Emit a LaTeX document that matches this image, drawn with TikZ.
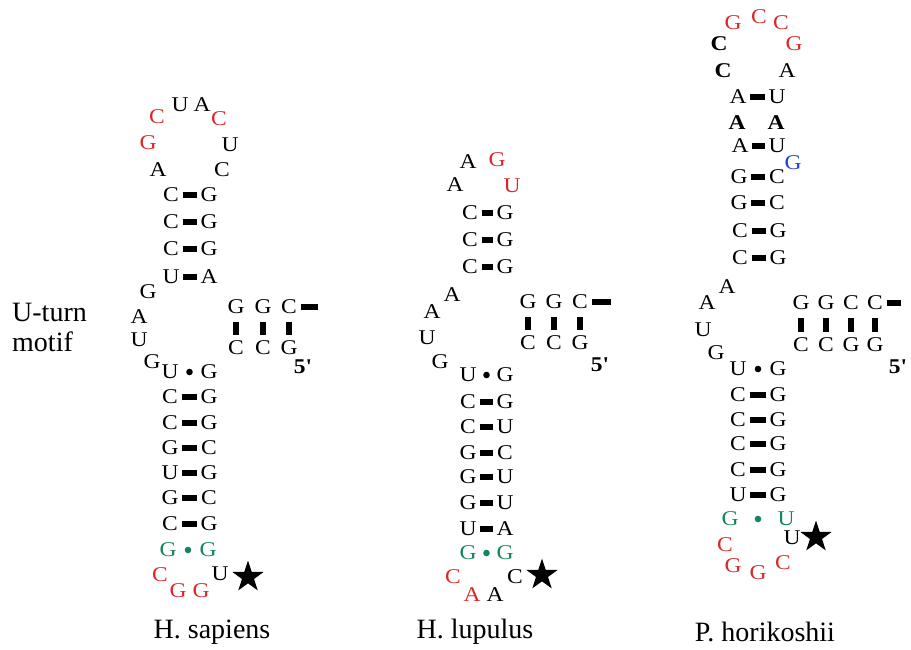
\documentclass[tikz,border=0pt]{standalone}
\usepackage{fontspec}
\setmainfont{Liberation Serif}
\newfontfamily\ntfont{Liberation Serif}[FakeStretch=1.12]
\usetikzlibrary{shapes.geometric,calc}
\definecolor{ntred}{RGB}{220,40,40}
\definecolor{ntgreen}{RGB}{20,135,90}
\definecolor{ntblue}{RGB}{30,70,210}
\tikzset{
  nt/.style={font=\ntfont\fontsize{21}{21}\selectfont, inner sep=0pt, text=black},
  rd/.style={nt, text=ntred},
  gn/.style={nt, text=ntgreen},
  bl/.style={nt, text=ntblue},
  bnt/.style={nt, font=\ntfont\bfseries\fontsize{21}{21}\selectfont},
  bond/.style={draw=black, line width=5.5pt, shorten <=3.5pt, shorten >=3.5pt},
  vbond/.style={draw=black, line width=5.2pt, shorten <=8pt, shorten >=6pt},
  lbl/.style={font=\fontsize{28}{28}\selectfont, inner sep=0pt},
  starmark/.style={star, star points=5, star point ratio=2.6, fill=black, minimum size=33pt, inner sep=0pt},
}
% Watson-Crick pair: prefix, y, left x, right x, left letter, right letter
\newcommand\wcpair[6]{%
  \node[nt] (#1a) at (#3,#2) {#5};
  \node[nt] (#1b) at (#4,#2) {#6};
  \draw[bond] (#1a) -- (#1b);}
% wobble pair with a dot: prefix, y, lx, rx, left, right, colour
\newcommand\gupair[7]{%
  \node[nt, text=#7] (#1a) at (#3,#2) {#5};
  \node[nt, text=#7] (#1b) at (#4,#2) {#6};
  \fill[#7] ($(#1a)!0.5!(#1b)$) circle (3.3pt);}
\begin{document}
\begin{tikzpicture}[x=1pt,y=-1pt]
\useasboundingbox (0,0) rectangle (911,649);
\fill[white] (0,0) rectangle (911,649);

% ---------------- U-turn label
\node[lbl, anchor=west] (ut1) at (12,312) {U-turn};
\node[lbl, anchor=west] (ut2) at (12,342) {motif};

% ================= H. sapiens
\node[rd] (s1l1) at (157,117) {C};
\node[nt] (s1l2) at (180,105) {U};
\node[nt] (s1l3) at (202,105) {A};
\node[rd] (s1l4) at (219,119) {C};
\node[rd] (s1l5) at (148,143) {G};
\node[nt] (s1l6) at (230,145) {U};
\node[nt] (s1l7) at (158,170) {A};
\node[nt] (s1l8) at (222,170) {C};
\wcpair{s1t1}{195}{171}{209}{C}{G}
\wcpair{s1t2}{222}{171}{209}{C}{G}
\wcpair{s1t3}{249}{171}{209}{C}{G}
\wcpair{s1t4}{277}{171}{209}{U}{A}
\node[nt] (s1i1) at (148,292) {G};
\node[nt] (s1i2) at (139,317) {A};
\node[nt] (s1i3) at (139,340) {U};
\node[nt] (s1i4) at (152,362) {G};
\gupair{s1b1}{372}{170}{209}{U}{G}{black}
\wcpair{s1b2}{397}{170}{209}{C}{G}
\wcpair{s1b3}{423}{170}{209}{C}{G}
\wcpair{s1b4}{448}{170}{209}{G}{C}
\wcpair{s1b5}{473}{170}{209}{U}{G}
\wcpair{s1b6}{498}{170}{209}{G}{C}
\wcpair{s1b7}{524}{170}{209}{C}{G}
\gupair{s1b8}{550}{168}{208}{G}{G}{ntgreen}
\node[rd] (s1e1) at (160,575) {C};
\node[rd] (s1e2) at (178,591) {G};
\node[rd] (s1e3) at (201,591) {G};
\node[nt] (s1e4) at (220,574) {U};
\node[starmark] (s1star) at (248,577) {};
% stub
\node[nt] (s1g1) at (236,307) {G};
\node[nt] (s1g2) at (263,307) {G};
\node[nt] (s1g3) at (289,307) {C};
\node[nt] (s1c1) at (236,348) {C};
\node[nt] (s1c2) at (263,348) {C};
\node[nt] (s1c3) at (289,348) {G};
\coordinate (s1end) at (318,307);
\draw[bond, shorten >=0pt] (s1g3) -- (s1end);
\draw[vbond] (s1g1) -- (s1c1);
\draw[vbond] (s1g2) -- (s1c2);
\draw[vbond] (s1g3) -- (s1c3);
\node[bnt] (s1five) at (303,367) {5'};

% ================= H. lupulus
\node[nt] (s2l1) at (455,185) {A};
\node[nt] (s2l2) at (468,162) {A};
\node[rd] (s2l3) at (497,160) {G};
\node[rd] (s2l4) at (512,186) {U};
\wcpair{s2t1}{213}{470}{505}{C}{G}
\wcpair{s2t2}{240}{470}{505}{C}{G}
\wcpair{s2t3}{267}{470}{505}{C}{G}
\node[nt] (s2i1) at (452,295) {A};
\node[nt] (s2i2) at (432,312) {A};
\node[nt] (s2i3) at (427,338) {U};
\node[nt] (s2i4) at (440,362) {G};
\gupair{s2b1}{375}{468}{505}{U}{G}{black}
\wcpair{s2b2}{402}{468}{505}{C}{G}
\wcpair{s2b3}{427}{468}{505}{C}{U}
\wcpair{s2b4}{453}{468}{505}{G}{C}
\wcpair{s2b5}{477}{468}{505}{G}{U}
\wcpair{s2b6}{503}{468}{505}{G}{U}
\wcpair{s2b7}{529}{468}{505}{U}{A}
\gupair{s2b8}{553}{468}{505}{G}{G}{ntgreen}
\node[rd] (s2e1) at (453,577) {C};
\node[rd] (s2e2) at (472,595) {A};
\node[nt] (s2e3) at (495,595) {A};
\node[nt] (s2e4) at (515,577) {C};
\node[starmark] (s2star) at (542,575) {};
% stub
\node[nt] (s2g1) at (528,302) {G};
\node[nt] (s2g2) at (554,302) {G};
\node[nt] (s2g3) at (580,302) {C};
\node[nt] (s2c1) at (528,343) {C};
\node[nt] (s2c2) at (554,343) {C};
\node[nt] (s2c3) at (580,343) {G};
\coordinate (s2end) at (611,302);
\draw[bond, shorten >=0pt] (s2g3) -- (s2end);
\draw[vbond] (s2g1) -- (s2c1);
\draw[vbond] (s2g2) -- (s2c2);
\draw[vbond] (s2g3) -- (s2c3);
\node[bnt] (s2five) at (600,365) {5'};

% ================= P. horikoshii
\node[bnt] (s3l1) at (723,71) {C};
\node[bnt] (s3l2) at (719,44) {C};
\node[rd] (s3l3) at (733,23) {G};
\node[rd] (s3l4) at (759,17) {C};
\node[rd] (s3l5) at (781,23) {C};
\node[rd] (s3l6) at (794,44) {G};
\node[nt] (s3l7) at (787,71) {A};
\wcpair{s3t1}{97}{738}{777}{A}{U}
\node[bnt] (s3aa1) at (737,123) {A};
\node[bnt] (s3aa2) at (776,123) {A};
\wcpair{s3t2}{146}{740}{777}{A}{U}
\node[bl] (s3blue) at (793,163) {G};
\wcpair{s3t3}{177}{739}{777}{G}{C}
\wcpair{s3t4}{203}{739}{777}{G}{C}
\wcpair{s3t5}{231}{740}{778}{C}{G}
\wcpair{s3t6}{258}{740}{778}{C}{G}
\node[nt] (s3i1) at (727,287) {A};
\node[nt] (s3i2) at (707,303) {A};
\node[nt] (s3i3) at (703,330) {U};
\node[nt] (s3i4) at (716,353) {G};
\gupair{s3b1}{369}{738}{778}{U}{G}{black}
\wcpair{s3b2}{395}{738}{778}{C}{G}
\wcpair{s3b3}{420}{738}{778}{C}{G}
\wcpair{s3b4}{444}{738}{778}{C}{G}
\wcpair{s3b5}{470}{738}{778}{C}{G}
\wcpair{s3b6}{495}{738}{778}{U}{G}
\gupair{s3b7}{519}{730}{786}{G}{U}{ntgreen}
\node[rd] (s3e1) at (725,545) {C};
\node[rd] (s3e2) at (733,566) {G};
\node[rd] (s3e3) at (758,573) {G};
\node[rd] (s3e4) at (783,563) {C};
\node[nt] (s3e5) at (792,538) {U};
\node[starmark] (s3star) at (816,537) {};
% stub
\node[nt] (s3g1) at (801,303) {G};
\node[nt] (s3g2) at (826,303) {G};
\node[nt] (s3g3) at (851,303) {C};
\node[nt] (s3g4) at (875,303) {C};
\node[nt] (s3c1) at (801,345) {C};
\node[nt] (s3c2) at (826,345) {C};
\node[nt] (s3c3) at (851,345) {G};
\node[nt] (s3c4) at (875,345) {G};
\coordinate (s3end) at (901,303);
\draw[bond, shorten >=0pt] (s3g4) -- (s3end);
\draw[vbond] (s3g1) -- (s3c1);
\draw[vbond] (s3g2) -- (s3c2);
\draw[vbond] (s3g3) -- (s3c3);
\draw[vbond] (s3g4) -- (s3c4);
\node[bnt] (s3five) at (898,367) {5'};

% ---------------- species labels
\node[lbl] (sp1) at (212,632) {H. sapiens};
\node[lbl] (sp2) at (475,632) {H. lupulus};
\node[lbl] (sp3) at (765,632) {P. horikoshii};
\end{tikzpicture}
\end{document}
